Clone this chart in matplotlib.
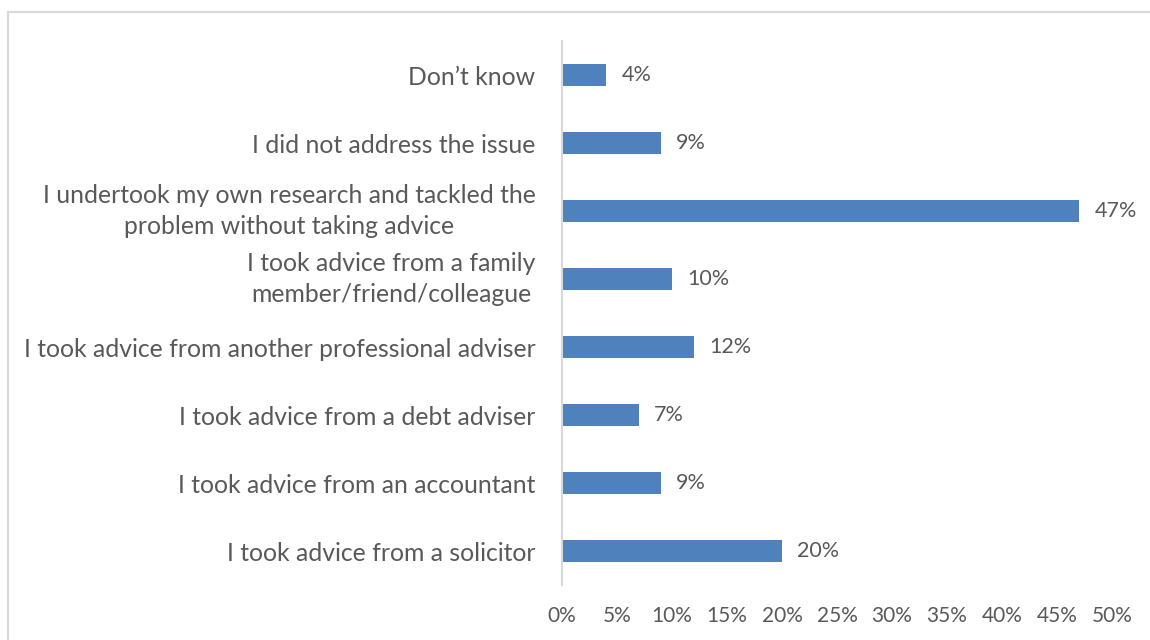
import matplotlib.pyplot as plt
from matplotlib.patches import Rectangle
from matplotlib.ticker import PercentFormatter

plt.rcParams['font.family'] = ['Lato', 'DejaVu Sans']

# answers, listed bottom to top
answers = [
    "I took advice from a solicitor",
    "I took advice from an accountant",
    "I took advice from a debt adviser",
    "I took advice from another professional adviser",
    "I took advice from a family\nmember/friend/colleague",
    "I undertook my own research and tackled the\nproblem without taking advice",
    "I did not address the issue",
    "Don\u2019t know",
]
shares = [20, 9, 7, 12, 10, 47, 9, 4]
x_ticks = [0, 5, 10, 15, 20, 25, 30, 35, 40, 45, 50]

text_grey = '#595959'
bar_blue = '#4f81bd'

fig = plt.figure(figsize=(11.5, 6.4), dpi=100)
ax = fig.add_axes([0.4887, 0.0859, 0.4783, 0.850])

pos = range(len(answers))
ax.barh(pos, shares, height=0.31, color=bar_blue)

for y, v in zip(pos, shares):
    ax.annotate(f"{v}%", xy=(v, y), xytext=(11, 0), textcoords='offset points',
                ha='left', va='center', fontsize=15.5, color=text_grey)

ax.set_xlim(0, 50)
ax.set_ylim(-0.5, len(answers) - 0.5)
ax.set_xticks(x_ticks)
ax.xaxis.set_major_formatter(PercentFormatter(decimals=0))
ax.set_yticks(list(pos))
ax.set_yticklabels(answers)
for lab in ax.get_yticklabels():
    lab.set_multialignment('center')
    lab.set_linespacing(1.45)
    if '\n' in lab.get_text():
        lab.set_va('center')

ax.tick_params(axis='x', length=0, pad=15, labelsize=15, labelcolor=text_grey)
ax.tick_params(axis='y', length=0, pad=19, labelsize=17.8, labelcolor=text_grey)

for side in ['top', 'right', 'bottom']:
    ax.spines[side].set_visible(False)
ax.spines['left'].set_color('#d9d9d9')
ax.spines['left'].set_linewidth(1.5)

# light chart frame, running off the right and bottom edges
frame = Rectangle((8 / 1150, -0.05), 1.1, 1 - 12 / 640 + 0.05,
                  transform=fig.transFigure, fill=False,
                  edgecolor='#d9d9d9', linewidth=1.5, clip_on=False)
fig.patches.append(frame)

fig.savefig('out.png', dpi=100)
